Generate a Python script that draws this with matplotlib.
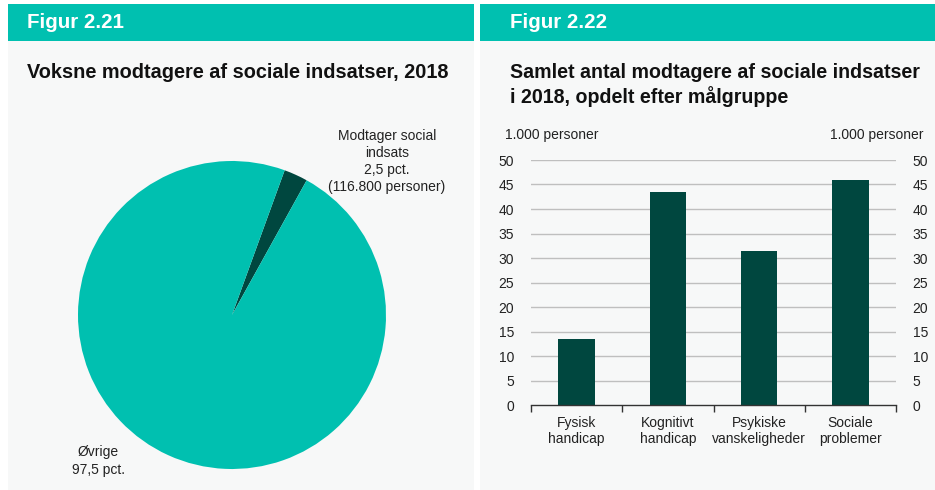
import matplotlib
matplotlib.use("Agg")
import matplotlib.pyplot as plt
from matplotlib.patches import Rectangle

plt.rcParams['font.family'] = ['Liberation Sans', 'DejaVu Sans']

# ---- data ----
pie_labels = ["Modtager social\nindsats\n2,5 pct.\n(116.800 personer)", "Øvrige\n97,5 pct."]
pie_values = [2.5, 97.5]

bar_categories = ["Fysisk\nhandicap", "Kognitivt\nhandicap", "Psykiske\nvanskeligheder", "Sociale\nproblemer"]
bar_values = [13.5, 43.5, 31.4, 46.0]
y_ticks = [0, 5, 10, 15, 20, 25, 30, 35, 40, 45, 50]
unit_label = "1.000 personer"

TEAL = "#00C0B0"
DARK = "#00473F"
BG = "#F7F8F8"
GRID = "#BFBFBF"
TXT = "#222222"

W, H = 935, 490
fig = plt.figure(figsize=(W / 100, H / 100), dpi=100)
fig.patch.set_facecolor("white")

def fx(x):
    return x / W

def fy(y):
    return 1 - y / H

def rect(x0, y0, x1, y1, color):
    fig.patches.append(Rectangle((fx(x0), fy(y1)), (x1 - x0) / W, (y1 - y0) / H,
                                 transform=fig.transFigure, facecolor=color,
                                 edgecolor="none", zorder=-10))

# panels
rect(8, 4, 474, 490, BG)
rect(8, 4, 474, 41, TEAL)
rect(480, 4, 935, 490, BG)
rect(480, 4, 935, 41, TEAL)

fig.text(fx(27), fy(22), "Figur 2.21", color="white", fontsize=14.8, fontweight="bold", va="center", ha="left")
fig.text(fx(510), fy(22), "Figur 2.22", color="white", fontsize=14.8, fontweight="bold", va="center", ha="left")
fig.text(fx(27), fy(72), "Voksne modtagere af sociale indsatser, 2018", color="#111111",
         fontsize=14.3, fontweight="bold", va="center", ha="left")
fig.text(fx(510), fy(85), "Samlet antal modtagere af sociale indsatser\ni 2018, opdelt efter målgruppe",
         color="#111111", fontsize=14.1, fontweight="bold", va="center", ha="left", linespacing=1.25)

# ---- pie ----
cx, cy, r = 232, 315, 154
axp = fig.add_axes([fx(cx - r), fy(cy + r), 2 * r / W, 2 * r / H])
axp.pie(pie_values, colors=[DARK, TEAL], startangle=70, counterclock=False,
        wedgeprops=dict(linewidth=0))
axp.set_xlim(-1, 1)
axp.set_ylim(-1, 1)
axp.set_aspect("auto")
axp.axis("off")
fig.text(fx(387), fy(161.5), pie_labels[0], ha="center", va="center", fontsize=10,
         color=TXT, linespacing=1.3)
fig.text(fx(98), fy(461), pie_labels[1], ha="center", va="center", fontsize=10,
         color=TXT, linespacing=1.3)

# ---- bars ----
x0, x1, y0, y1 = 531, 896, 405, 160
axb = fig.add_axes([fx(x0), fy(y0), (x1 - x0) / W, (y0 - y1) / H])
axb.set_facecolor("none")
pos = list(range(len(bar_values)))
axb.bar(pos, bar_values, width=0.4, color=DARK, zorder=3)
axb.set_xlim(-0.5, len(bar_values) - 0.5)
axb.set_ylim(0, 50)
axb.set_yticks(y_ticks)
for v in y_ticks[1:]:
    axb.axhline(v, color=GRID, linewidth=1.0, zorder=1)
for s in ["top", "left", "right"]:
    axb.spines[s].set_visible(False)
axb.spines["bottom"].set_color("#333333")
axb.spines["bottom"].set_linewidth(1.0)
axb.spines["bottom"].set_zorder(4)
axb.tick_params(axis="y", length=0, pad=12, labelsize=10, labelcolor=TXT,
                labelleft=True, labelright=True)
axb.set_xticks(pos)
axb.set_xticklabels(bar_categories, fontsize=10, color=TXT, linespacing=1.2)
axb.tick_params(axis="x", which="major", length=0, pad=8)
axb.set_xticks([p - 0.5 for p in pos] + [len(pos) - 0.5], minor=True)
axb.tick_params(axis="x", which="minor", length=5, width=1, color="#333333", direction="out")

fig.text(fx(505), fy(135), unit_label, ha="left", va="center", fontsize=10, color=TXT)
fig.text(fx(924), fy(135), unit_label, ha="right", va="center", fontsize=10, color=TXT)

fig.savefig("out.png", dpi=100, facecolor=fig.get_facecolor())
